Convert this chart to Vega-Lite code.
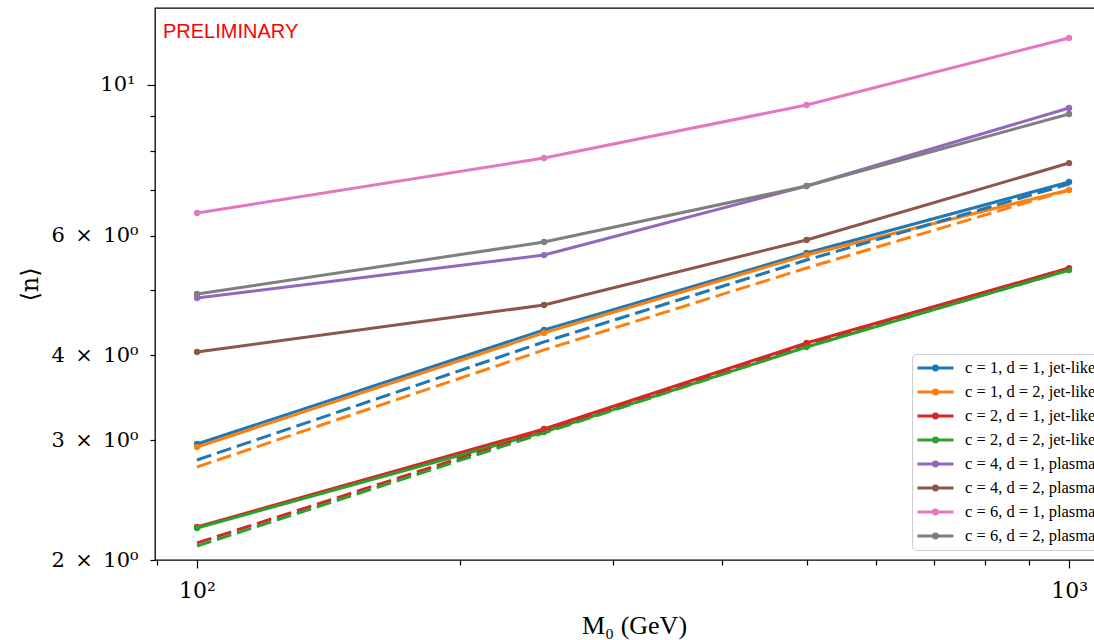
{
  "$schema": "https://vega.github.io/schema/vega-lite/v6.json",
  "width": 958,
  "height": 552,
  "autosize": {"type": "none"},
  "padding": {"left": 155, "top": 8, "right": 0, "bottom": 80},
  "background": "white",
  "config": {
    "view": {"stroke": "black", "strokeWidth": 1.3},
    "font": "Liberation Serif"
  },
  "title": {
    "text": "PRELIMINARY",
    "anchor": "start",
    "frame": "group",
    "orient": "top",
    "offset": -30,
    "dx": 8,
    "dy": 20,
    "baseline": "alphabetic",
    "color": "#ff0000",
    "font": "Liberation Sans",
    "fontSize": 20,
    "fontWeight": "normal"
  },
  "data": {
    "values": [
      {"series": "c = 1, d = 1, jet-like", "style": "solid", "M0": 100, "n": 2.963},
      {"series": "c = 1, d = 1, jet-like", "style": "solid", "M0": 250, "n": 4.361},
      {"series": "c = 1, d = 1, jet-like", "style": "solid", "M0": 500, "n": 5.659},
      {"series": "c = 1, d = 1, jet-like", "style": "solid", "M0": 1000, "n": 7.198},
      {"series": "c = 1, d = 2, jet-like", "style": "solid", "M0": 100, "n": 2.933},
      {"series": "c = 1, d = 2, jet-like", "style": "solid", "M0": 250, "n": 4.317},
      {"series": "c = 1, d = 2, jet-like", "style": "solid", "M0": 500, "n": 5.62},
      {"series": "c = 1, d = 2, jet-like", "style": "solid", "M0": 1000, "n": 7.006},
      {"series": "c = 2, d = 1, jet-like", "style": "solid", "M0": 100, "n": 2.237},
      {"series": "c = 2, d = 1, jet-like", "style": "solid", "M0": 250, "n": 3.117},
      {"series": "c = 2, d = 1, jet-like", "style": "solid", "M0": 500, "n": 4.172},
      {"series": "c = 2, d = 1, jet-like", "style": "solid", "M0": 1000, "n": 5.378},
      {"series": "c = 2, d = 2, jet-like", "style": "solid", "M0": 100, "n": 2.229},
      {"series": "c = 2, d = 2, jet-like", "style": "solid", "M0": 250, "n": 3.086},
      {"series": "c = 2, d = 2, jet-like", "style": "solid", "M0": 500, "n": 4.116},
      {"series": "c = 2, d = 2, jet-like", "style": "solid", "M0": 1000, "n": 5.342},
      {"series": "c = 4, d = 1, plasma", "style": "solid", "M0": 100, "n": 4.859},
      {"series": "c = 4, d = 1, plasma", "style": "solid", "M0": 250, "n": 5.62},
      {"series": "c = 4, d = 1, plasma", "style": "solid", "M0": 500, "n": 7.101},
      {"series": "c = 4, d = 1, plasma", "style": "solid", "M0": 1000, "n": 9.25},
      {"series": "c = 4, d = 2, plasma", "style": "solid", "M0": 100, "n": 4.048},
      {"series": "c = 4, d = 2, plasma", "style": "solid", "M0": 250, "n": 4.745},
      {"series": "c = 4, d = 2, plasma", "style": "solid", "M0": 500, "n": 5.914},
      {"series": "c = 4, d = 2, plasma", "style": "solid", "M0": 1000, "n": 7.676},
      {"series": "c = 6, d = 1, plasma", "style": "solid", "M0": 100, "n": 6.48},
      {"series": "c = 6, d = 1, plasma", "style": "solid", "M0": 250, "n": 7.808},
      {"series": "c = 6, d = 1, plasma", "style": "solid", "M0": 500, "n": 9.344},
      {"series": "c = 6, d = 1, plasma", "style": "solid", "M0": 1000, "n": 11.728},
      {"series": "c = 6, d = 2, plasma", "style": "solid", "M0": 100, "n": 4.925},
      {"series": "c = 6, d = 2, plasma", "style": "solid", "M0": 250, "n": 5.874},
      {"series": "c = 6, d = 2, plasma", "style": "solid", "M0": 500, "n": 7.101},
      {"series": "c = 6, d = 2, plasma", "style": "solid", "M0": 1000, "n": 9.064},
      {"series": "c = 1, d = 1, jet-like", "style": "dashed", "M0": 100, "n": 2.807},
      {"series": "c = 1, d = 1, jet-like", "style": "dashed", "M0": 250, "n": 4.187},
      {"series": "c = 1, d = 1, jet-like", "style": "dashed", "M0": 500, "n": 5.526},
      {"series": "c = 1, d = 1, jet-like", "style": "dashed", "M0": 1000, "n": 7.149},
      {"series": "c = 1, d = 2, jet-like", "style": "dashed", "M0": 100, "n": 2.741},
      {"series": "c = 1, d = 2, jet-like", "style": "dashed", "M0": 250, "n": 4.075},
      {"series": "c = 1, d = 2, jet-like", "style": "dashed", "M0": 500, "n": 5.378},
      {"series": "c = 1, d = 2, jet-like", "style": "dashed", "M0": 1000, "n": 7.006},
      {"series": "c = 2, d = 1, jet-like", "style": "dashed", "M0": 100, "n": 2.119},
      {"series": "c = 2, d = 1, jet-like", "style": "dashed", "M0": 250, "n": 3.096},
      {"series": "c = 2, d = 1, jet-like", "style": "dashed", "M0": 500, "n": 4.144},
      {"series": "c = 2, d = 1, jet-like", "style": "dashed", "M0": 1000, "n": 5.378},
      {"series": "c = 2, d = 2, jet-like", "style": "dashed", "M0": 100, "n": 2.097},
      {"series": "c = 2, d = 2, jet-like", "style": "dashed", "M0": 250, "n": 3.076},
      {"series": "c = 2, d = 2, jet-like", "style": "dashed", "M0": 500, "n": 4.12},
      {"series": "c = 2, d = 2, jet-like", "style": "dashed", "M0": 1000, "n": 5.342}
    ]
  },
  "encoding": {
    "x": {
      "field": "M0",
      "type": "quantitative",
      "scale": {"type": "log", "domain": [89.5, 1123], "nice": false},
      "axis": {
        "title": "M₀ (GeV)",
        "titleFont": "Liberation Serif",
        "titleFontSize": 26,
        "titleFontWeight": "normal",
        "titleColor": "black",
        "titlePadding": 11,
        "values": [90, 100, 200, 300, 400, 500, 600, 700, 800, 900, 1000],
        "labelExpr": "datum.value == 100 ? '10²' : (datum.value == 1000 ? '10³' : '')",
        "labelFont": "DejaVu Serif",
        "labelFontSize": 22,
        "labelColor": "black",
        "labelPadding": 12,
        "labelFlush": false,
        "labelOverlap": false,
        "grid": false,
        "domain": false,
        "tickColor": "black",
        "tickWidth": 1.2,
        "tickSize": {"condition": {"test": "datum.value == 100 || datum.value == 1000", "value": 8}, "value": 5}
      }
    },
    "y": {
      "field": "n",
      "type": "quantitative",
      "scale": {"type": "log", "domain": [2, 12.98], "nice": false},
      "axis": {
        "title": "⟨n⟩",
        "titleFont": "DejaVu Serif",
        "titleFontSize": 24,
        "titleFontWeight": "normal",
        "titleColor": "black",
        "titlePadding": 8,
        "values": [2, 3, 4, 5, 6, 7, 8, 9, 10],
        "labelExpr": "datum.value == 10 ? '10¹' : (datum.value == 5 || datum.value >= 7 ? '' : datum.value + '\u2002×\u200210⁰')",
        "labelFont": "DejaVu Serif",
        "labelFontSize": 21,
        "labelColor": "black",
        "labelPadding": 12,
        "labelFlush": false,
        "labelOverlap": false,
        "grid": false,
        "domain": false,
        "tickColor": "black",
        "tickWidth": 1.2,
        "tickSize": {"condition": {"test": "datum.value == 10", "value": 8}, "value": 5}
      }
    }
  },
  "layer": [
    {
      "transform": [{"filter": "datum.style == 'solid'"}],
      "mark": {"type": "line", "strokeWidth": 3},
      "encoding": {
        "color": {
          "field": "series",
          "type": "nominal",
          "scale": {
            "domain": ["c = 1, d = 1, jet-like", "c = 1, d = 2, jet-like", "c = 2, d = 1, jet-like", "c = 2, d = 2, jet-like", "c = 4, d = 1, plasma", "c = 4, d = 2, plasma", "c = 6, d = 1, plasma", "c = 6, d = 2, plasma"],
            "range": ["#1f77b4", "#ff7f0e", "#d62728", "#2ca02c", "#9467bd", "#8c564b", "#e377c2", "#7f7f7f"]
          },
          "legend": {
            "title": null,
            "orient": "none",
            "legendX": 757,
            "legendY": 346,
            "symbolType": "M-1,0L1,0M0.11,0A0.11,0.11,0,1,1,-0.11,0A0.11,0.11,0,1,1,0.11,0",
            "symbolSize": 1296,
            "symbolStrokeWidth": 3,
            "symbolDash": [],
            "symbolFillColor": "transparent",
            "symbolOpacity": 1,
            "clipHeight": 20,
            "labelFont": "Liberation Serif",
            "labelFontSize": 16.5,
            "labelColor": "black",
            "labelOffset": 10,
            "labelLimit": 300,
            "rowPadding": 4,
            "padding": 4,
            "strokeColor": "#cccccc",
            "fillColor": "white",
            "cornerRadius": 4
          }
        }
      }
    },
    {
      "transform": [{"filter": "datum.style == 'solid'"}],
      "mark": {"type": "point", "filled": true, "size": 40, "opacity": 1, "shape": "circle"},
      "encoding": {"color": {"field": "series", "type": "nominal"}}
    },
    {
      "transform": [{"filter": "datum.style == 'dashed'"}],
      "mark": {"type": "line", "strokeWidth": 3, "strokeDash": [15, 6]},
      "encoding": {"color": {"field": "series", "type": "nominal"}}
    }
  ]
}
